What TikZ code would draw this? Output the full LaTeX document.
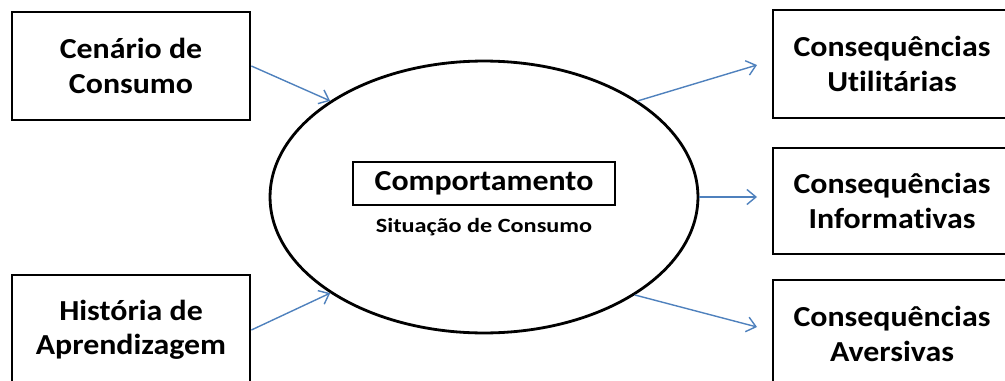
\documentclass[tikz,border=0pt]{standalone}
\usepackage{fontspec}
\setmainfont{Carlito}[Ligatures=NoCommon, FakeStretch=1.1]
\newfontfamily\legendafont{Carlito}[Ligatures=NoCommon, FakeStretch=1.2]
\usetikzlibrary{positioning, shapes.geometric, arrows.meta}

\definecolor{setaazul}{HTML}{4F81BD}

\begin{document}
\begin{tikzpicture}[x=0.02cm, y=0.02cm,
    caixa/.style={draw, line width=1.6pt, minimum width=4.76cm, minimum height=2.16cm,
      align=center, font=\fontsize{16.5}{19.5}\selectfont\bfseries},
    seta/.style={-{Straight Barb[length=1.8mm, width=3mm]}, draw=setaazul, line width=0.8pt}]
  \useasboundingbox (0,0) rectangle (1005,380);
  \clip (0,0) rectangle (1005,380);

  % entradas
  \node[caixa] (cenario) at (131,314) {Cenário de\\Consumo};
  \node[caixa, minimum height=2.2cm] (historia) at (131,50) {História de\\Aprendizagem};

  % situacao de consumo
  \node[ellipse, draw, line width=1.6pt, inner sep=0pt,
    minimum width=8.56cm, minimum height=5.44cm] (consumo) at (484,183) {};
  \node[draw, line width=1.3pt, minimum width=5.24cm, minimum height=0.86cm,
    font=\fontsize{16.5}{19.5}\selectfont\bfseries] (comport) at (484,196.5) {Comportamento};
  \node[font=\legendafont\fontsize{11.5}{13}\selectfont\bfseries] (situacao) at (484,153) {Situação de Consumo};

  % consequencias
  \node[caixa] (util) at (892,316) {Consequências\\Utilitárias};
  \node[caixa, minimum height=2.12cm] (info) at (892,179) {Consequências\\Informativas};
  \node[caixa] (aver) at (892,46) {Consequências\\Aversivas};

  \coordinate (fimA) at (757,315);
  \coordinate (fimB) at (757,183);
  \coordinate (fimC) at (757,53);

  \draw[seta] (cenario.east) -- (consumo.148);
  \draw[seta] (historia.east) -- (consumo.212);
  \draw[seta] (consumo.32) -- (fimA);
  \draw[seta] (consumo.east) -- (fimB);
  \draw[seta] (consumo.-33) -- (fimC);
\end{tikzpicture}
\end{document}
